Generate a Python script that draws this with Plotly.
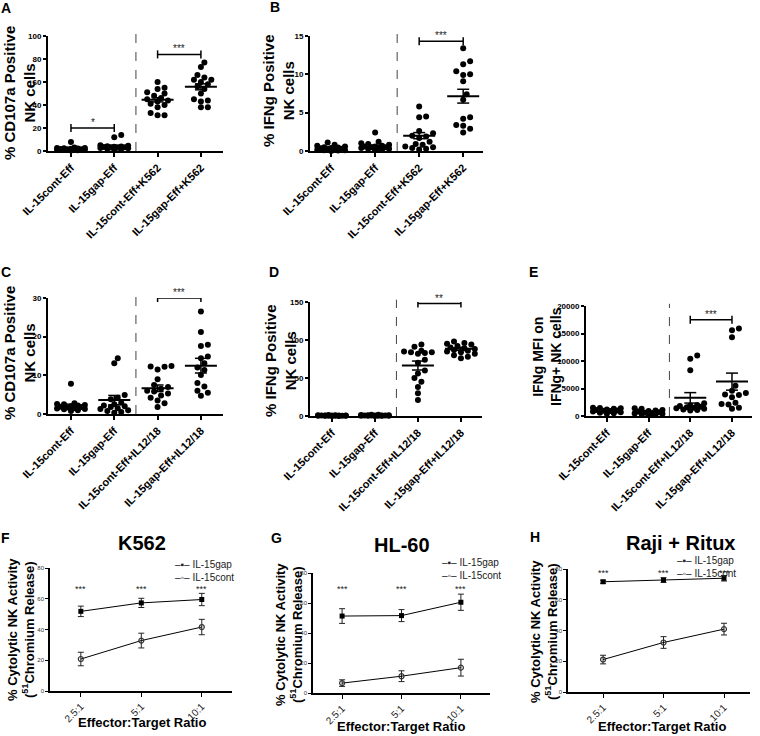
import plotly.graph_objects as go
import numpy as np

W, H = 760, 736

# ---------------- data ----------------
cats_k562 = ["IL-15cont-Eff", "IL-15gap-Eff", "IL-15cont-Eff+K562", "IL-15gap-Eff+K562"]
cats_il = ["IL-15cont-Eff", "IL-15gap-Eff", "IL-15cont-Eff+IL12/18", "IL-15gap-Eff+IL12/18"]

A_cont_eff = [7.8, 3.0, 2.6, 2.5, 2.3, 2.1, 2.0, 1.8, 1.6, 1.5, 1.3, 1.1, 1.0, 0.8, 0.6, 0.4]
A_gap_eff = [14.0, 12.0, 5.0, 4.5, 4.2, 3.9, 3.6, 3.4, 3.2, 3.0, 2.8, 2.5, 2.3, 2.0, 1.8, 1.5]
A_cont_k562 = [60, 55, 54, 51, 50, 48, 46, 45, 44, 43, 41, 40, 38, 33, 31, 31]
A_gap_k562 = [77, 73, 66, 64, 62, 62, 60, 58, 56, 54, 50, 45, 44, 43, 38, 38]
A_mean = [2.0, 4.2, 44.5, 55.8]
A_sem = [0.5, 0.9, 1.8, 2.6]

B_cont_eff = [1.1, 0.8, 0.7, 0.6, 0.5, 0.45, 0.4, 0.35, 0.3, 0.25, 0.2, 0.15, 0.1, 0.1, 0.05, 0.0]
B_gap_eff = [2.4, 1.2, 1.0, 0.9, 0.8, 0.7, 0.6, 0.6, 0.5, 0.5, 0.4, 0.4, 0.3, 0.3, 0.2, 0.1]
B_cont_k562 = [5.8, 4.5, 4.4, 2.6, 2.3, 2.0, 1.9, 1.7, 1.2, 0.9, 0.8, 0.6, 0.5, 0.4, 0.3, 0.2]
B_gap_k562 = [13.4, 11.7, 11.3, 10.4, 10.0, 9.9, 9.1, 7.4, 6.7, 4.4, 4.2, 3.4, 3.3, 2.9, 2.4]
B_mean = [0.35, 0.6, 2.0, 7.15]
B_sem = [0.08, 0.15, 0.4, 0.9]

C_cont_eff = [7.8, 2.8, 2.6, 2.5, 2.3, 2.2, 2.0, 1.9, 1.8, 1.7, 1.5, 1.4, 1.3, 1.2, 1.0, 0.8]
C_gap_eff = [14.4, 13.1, 4.9, 4.2, 3.8, 2.9, 2.5, 2.2, 2.0, 1.8, 1.5, 1.3, 1.0, 0.8, 0.5, 0.3]
C_cont_il = [12.4, 12.3, 12.2, 11.5, 9.0, 7.5, 7.0, 6.5, 6.0, 5.8, 5.3, 4.8, 4.2, 3.5, 2.8, 1.8]
C_gap_il = [26.5, 21.2, 17.9, 17.6, 14.9, 14.4, 13.1, 12.0, 11.4, 10.1, 8.0, 7.1, 6.0, 5.5, 4.7]
C_mean = [2.1, 3.6, 6.65, 12.5]
C_sem = [0.45, 1.2, 0.85, 1.9]

D_cont_eff = [1.2, 1.0, 0.9, 0.8, 0.7, 0.6, 0.5, 0.5, 0.4, 0.4, 0.3, 0.3, 0.2, 0.2, 0.1, 0.1]
D_gap_eff = [1.8, 1.5, 1.2, 1.0, 0.9, 0.8, 0.7, 0.6, 0.5, 0.5, 0.4, 0.3, 0.3, 0.2, 0.2, 0.1]
D_cont_il = [94, 91, 86, 85, 84, 84, 83, 82, 74, 70, 60, 56, 50, 45, 38, 30, 21]
D_gap_il = [98, 96, 95, 94, 92, 90, 89, 88, 87, 86, 85, 84, 82, 80, 78, 76]
D_mean = [0.5, 0.7, 66.4, 88.4]
D_sem = [0.1, 0.12, 5.9, 2.0]

E_cont_eff = [1500, 1450, 1400, 1300, 1200, 1100, 1000, 950, 900, 800, 700, 600, 500, 400]
E_gap_eff = [1400, 1300, 1100, 1000, 900, 800, 700, 600, 500, 450, 400, 350, 300, 250]
E_cont_il = [11000, 10400, 8300, 2300, 2000, 1900, 1800, 1700, 1600, 1500, 1400, 1300, 1200, 1100, 1000]
E_gap_il = [15900, 15600, 14300, 5500, 4600, 4200, 3900, 3800, 3400, 2400, 2200, 2100, 1500, 1300]
E_mean = [850, 750, 3300, 6250]
E_sem = [100, 100, 950, 1550]
E_ticks = ["0", "5000", "10000", "15000", "20000"]

ratios = ["2.5:1", "5:1", "10:1"]
F_gap = [51.8, 57.3, 59.5]; F_gap_err = [3.4, 3.0, 4.0]
F_cont = [20.8, 32.8, 41.6]; F_cont_err = [4.4, 4.8, 5.0]
G_gap = [51.3, 51.6, 60.5]; G_gap_err = [4.9, 4.0, 5.4]
G_cont = [6.6, 11.2, 16.9]; G_cont_err = [2.2, 3.6, 5.6]
H_gap = [71.7, 72.8, 74.0]; H_gap_err = [1.0, 1.5, 1.8]
H_cont = [21.1, 32.2, 40.9]; H_cont_err = [2.8, 3.8, 3.8]

# ---------------- layout helpers ----------------
FONT = "Arial, Liberation Sans, sans-serif"
fig = go.Figure()
annotations = []
shapes = []


def px(x, y):
    return x / W, 1 - y / H


def axis_names(k):
    return ("x" if k == 1 else f"x{k}", "y" if k == 1 else f"y{k}",
            "xaxis" if k == 1 else f"xaxis{k}", "yaxis" if k == 1 else f"yaxis{k}")


def swarm(vals, ppu_y, ppu_x, d=5.6, maxw=17.0):
    order = np.argsort(vals)
    step = d * 0.62
    cands = [0.0]
    k = 1
    while k * step <= maxw:
        cands += [k * step, -k * step]
        k += 1
    placed = []
    offs = [0.0] * len(vals)
    for i in order:
        y = vals[i] * ppu_y
        best, bestc, bests = None, 0.0, -1
        for c in cands:
            md = min((np.hypot(c - p[0], y - p[1]) for p in placed), default=1e9)
            if md >= d:
                best = c
                break
            if md > bests:
                bests, bestc = md, c
        if best is None:
            best = bestc
        placed.append((best, y))
        offs[i] = best / ppu_x
    return offs


def setup_axes(k, geom, xr, yr, tickvals, ticktext, ytickvals, yticktext, xfont, yfont, lw):
    x0, x1, yt, yb = geom
    xn, yn, xk, yk = axis_names(k)
    fig.layout[xk] = dict(domain=[x0 / W, x1 / W], anchor=yn, range=xr, showline=True,
                          linecolor="black", linewidth=lw, ticks="outside", ticklen=4,
                          tickwidth=lw * 0.8, tickcolor="black", tickmode="array",
                          tickvals=tickvals, ticktext=ticktext, tickangle=-45, tickfont=xfont,
                          showgrid=False, zeroline=False, fixedrange=True, automargin=False)
    fig.layout[yk] = dict(domain=[1 - yb / H, 1 - yt / H], anchor=xn, range=yr, showline=True,
                          linecolor="black", linewidth=lw, ticks="outside", ticklen=3,
                          tickwidth=lw * 0.8, tickcolor="black", tickmode="array",
                          tickvals=ytickvals, ticktext=yticktext,
                          tickfont=yfont, showgrid=False, zeroline=False, fixedrange=True,
                          automargin=False)


def scatter_panel(k, groups, means, sems, cats, geom, xr, ytop, ytickvals, brackets, yticktext=None):
    x0, x1, yt, yb = geom
    xn, yn, xk, yk = axis_names(k)
    if yticktext is None:
        yticktext = [str(v) for v in ytickvals]
    setup_axes(k, geom, xr, [0, ytop], list(range(len(cats))), cats, ytickvals, yticktext,
               dict(family=FONT, size=11, color="black", weight="bold"),
               dict(family=FONT, size=8, color="black", weight="bold"), 2)
    ppu_x = (x1 - x0) / (xr[1] - xr[0])
    ppu_y = (yb - yt) / ytop
    for gi, vals in enumerate(groups):
        offs = swarm(vals, ppu_y, ppu_x)
        fig.add_trace(go.Scatter(x=[gi + o for o in offs], y=vals, mode="markers",
                                 marker=dict(size=6, color="black"), xaxis=xn, yaxis=yn,
                                 showlegend=False, cliponaxis=False, hoverinfo="skip"))
        m, s = means[gi], sems[gi]
        hw = 16 / ppu_x
        cw = 6 / ppu_x
        fig.add_trace(go.Scatter(x=[gi - hw, gi + hw], y=[m, m], mode="lines",
                                 line=dict(color="black", width=2), xaxis=xn, yaxis=yn,
                                 showlegend=False, cliponaxis=False, hoverinfo="skip"))
        fig.add_trace(go.Scatter(x=[gi, gi, None, gi - cw, gi + cw, None, gi - cw, gi + cw],
                                 y=[m - s, m + s, None, m + s, m + s, None, m - s, m - s],
                                 mode="lines", line=dict(color="black", width=1.5),
                                 xaxis=xn, yaxis=yn, showlegend=False, cliponaxis=False,
                                 hoverinfo="skip"))
    shapes.append(dict(type="line", xref=xn, yref=f"{yn} domain", x0=1.5, x1=1.5, y0=0, y1=1.02,
                       line=dict(color="#444", width=1, dash="dash")))
    for (a, b, yv, txt) in brackets:
        tk = 4 / ppu_y
        fig.add_trace(go.Scatter(x=[a, a, None, a, b, None, b, b],
                                 y=[yv - tk, yv + tk, None, yv, yv, None, yv - tk, yv + tk],
                                 mode="lines", line=dict(color="black", width=1.5),
                                 xaxis=xn, yaxis=yn, showlegend=False, cliponaxis=False,
                                 hoverinfo="skip"))
        annotations.append(dict(x=(a + b) / 2, y=yv, xref=xn, yref=yn, text=txt, showarrow=False,
                                yanchor="bottom", yshift=-2,
                                font=dict(family=FONT, size=10, color="#222")))


def line_panel(k, gap, gap_err, cont, cont_err, geom, xr, star_y, legend_pos):
    xn, yn, xk, yk = axis_names(k)
    setup_axes(k, geom, xr, [0, 80], [0, 1, 2], ratios, [0, 20, 40, 60, 80],
               ["0", "20", "40", "60", "80"],
               dict(family=FONT, size=10, color="#222"),
               dict(family=FONT, size=6, color="#333"), 1.5)
    xs = list(range(len(ratios)))
    fig.add_trace(go.Scatter(x=xs, y=cont, mode="lines+markers",
                             line=dict(color="black", width=1),
                             marker=dict(symbol="circle-open", size=5, color="#333",
                                         line=dict(width=1.2, color="#333")),
                             error_y=dict(type="data", array=cont_err, width=3, thickness=1,
                                          color="#222"),
                             xaxis=xn, yaxis=yn, showlegend=False, cliponaxis=False,
                             name="IL-15cont"))
    fig.add_trace(go.Scatter(x=xs, y=gap, mode="lines+markers",
                             line=dict(color="black", width=1),
                             marker=dict(symbol="square", size=5, color="black"),
                             error_y=dict(type="data", array=gap_err, width=3, thickness=1,
                                          color="#222"),
                             xaxis=xn, yaxis=yn, showlegend=False, cliponaxis=False,
                             name="IL-15gap"))
    for xi in xs:
        annotations.append(dict(x=xi, y=star_y, xref=xn, yref=yn, text="***", showarrow=False,
                                yanchor="middle", font=dict(family=FONT, size=9, color="#222")))
    lx, ly = legend_pos
    annotations.append(dict(x=lx / W, y=1 - ly / H, xref="paper", yref="paper",
                            text="‒▪‒ IL-15gap<br>‒◦‒ IL-15cont", showarrow=False,
                            xanchor="left", yanchor="middle", align="left", borderpad=0,
                            font=dict(family=FONT, size=10, color="#222")))


# geometry: (x_left, x_right, y_top_px, y_zero_px)
scatter_panel(1, [A_cont_eff, A_gap_eff, A_cont_k562, A_gap_k562], A_mean, A_sem, cats_k562,
              (48, 223, 36, 151), [-0.53, 3.51], 100, [0, 20, 40, 60, 80, 100],
              [(0, 1, 20, "*"), (2, 3, 84, "***")])
scatter_panel(2, [B_cont_eff, B_gap_eff, B_cont_k562, B_gap_k562], B_mean, B_sem, cats_k562,
              (310, 483, 36, 151), [-0.48, 3.45], 15, [0, 5, 10, 15],
              [(2, 3, 14.3, "***")])
scatter_panel(3, [C_cont_eff, C_gap_eff, C_cont_il, C_gap_il], C_mean, C_sem, cats_il,
              (48, 223, 298, 414), [-0.53, 3.51], 30, [0, 10, 20, 30],
              [(2, 3, 30, "***")])
scatter_panel(4, [D_cont_eff, D_gap_eff, D_cont_il, D_gap_il], D_mean, D_sem, cats_il,
              (310, 482, 302, 416), [-0.51, 3.49], 150, [0, 50, 100, 150],
              [(2, 3, 148, "**")])
scatter_panel(5, [E_cont_eff, E_gap_eff, E_cont_il, E_gap_il], E_mean, E_sem, cats_il,
              (586, 752, 306, 416), [-0.5, 3.48], 20000, [0, 5000, 10000, 15000, 20000],
              [(2, 3, 17500, "***")], yticktext=E_ticks)

line_panel(6, F_gap, F_gap_err, F_cont, F_cont_err, (50, 232, 568, 691), [-0.51, 2.5], 66.6, (174, 571))
line_panel(7, G_gap, G_gap_err, G_cont, G_cont_err, (313, 490, 573, 693), [-0.49, 2.49], 69.3, (441, 569))
line_panel(8, H_gap, H_gap_err, H_cont, H_cont_err, (568, 750, 569, 692), [-0.58, 2.43], 77.2, (676, 567))


def text(x, y, s, size, bold=True, angle=0, color="black"):
    xp, yp = px(x, y)
    annotations.append(dict(x=xp, y=yp, xref="paper", yref="paper", text=s, showarrow=False,
                            xanchor="center", yanchor="middle", textangle=angle,
                            font=dict(family=FONT, size=size, color=color,
                                      weight="bold" if bold else "normal")))


for L, x, y in [("A", 6, 8), ("B", 275, 7), ("C", 6, 272), ("D", 274, 272), ("E", 533, 272),
                ("F", 5, 538), ("G", 276, 538), ("H", 535, 537)]:
    text(x, y, L, 14)

text(19, 93, "% CD107a Positive<br>NK cells", 15, angle=-90)
text(279, 91, "% IFNg Positive<br>NK cells", 15, angle=-90)
text(19, 353, "% CD107a Positive<br>NK cells", 15, angle=-90)
text(280, 361, "% IFNg Positive<br>NK cells", 15, angle=-90)
text(547, 357, "IFNg MFI on<br>IFNg+ NK cells", 14, angle=-90)
for x, y in [(21, 630), (289, 635), (544, 632)]:
    text(x, y, "% Cytolytic NK Activity<br>(<sup>51</sup>Chromium Release)", 13, angle=-90)

text(142, 543, "K562", 20)
text(402, 545, "HL-60", 20)
text(680, 543, "Raji + Ritux", 20)

text(142, 722, "Effector:Target Ratio", 13)
text(401, 726, "Effector:Target Ratio", 13)
text(662, 726, "Effector:Target Ratio", 13)

fig.update_layout(width=W, height=H, margin=dict(l=0, r=0, t=0, b=0, autoexpand=False),
                  autosize=False, paper_bgcolor="white", plot_bgcolor="white", showlegend=False,
                  annotations=annotations, shapes=shapes,
                  font=dict(family=FONT, color="black"))

fig.write_html("out.html", config={"displayModeBar": False},
               post_script="document.body.style.margin='0px';document.body.style.overflow='hidden';")
